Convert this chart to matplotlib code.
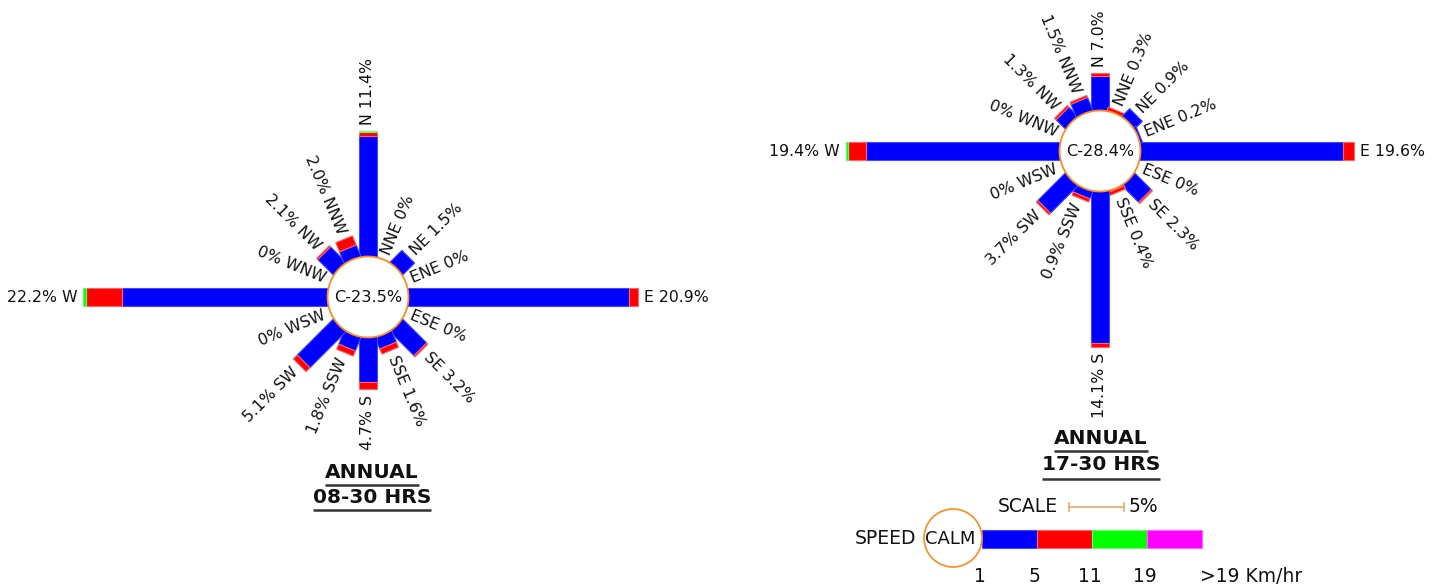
import matplotlib
matplotlib.use('Agg')
import matplotlib.pyplot as plt
from matplotlib.patches import Polygon, Circle
import numpy as np

# ---------------- data ----------------
directions = ['N', 'NNE', 'NE', 'ENE', 'E', 'ESE', 'SE', 'SSE',
              'S', 'SSW', 'SW', 'WSW', 'W', 'WNW', 'NW', 'NNW']
speed_ticks = ['1', '5', '11', '19', '>19 Km/hr']
speed_colors = ['#0000FF', '#FF0000', '#00FF00', '#FF00FF']
speed_edges = ['#4848FF', '#FF6464', '#64FF64', '#FF64FF']

# Rose 1 : ANNUAL 08-30 HRS
r1_title = ['ANNUAL', '08-30 HRS']
r1_calm = 23.5
r1_total = [11.4, 0, 1.5, 0, 20.9, 0, 3.2, 1.6, 4.7, 1.8, 5.1, 0, 22.2, 0, 2.1, 2.0]
r1_s1 = [11.0, 0, 1.5, 0, 20.0, 0, 3.05, 1.1, 4.0, 1.3, 4.6, 0, 18.7, 0, 1.95, 1.1]
r1_s2 = [0.3, 0, 0, 0, 0.9, 0, 0.15, 0.5, 0.7, 0.5, 0.5, 0, 3.3, 0, 0.15, 0.9]
r1_s3 = [0.1, 0, 0, 0, 0, 0, 0, 0, 0, 0, 0, 0, 0.2, 0, 0, 0]
r1_s4 = [0] * 16

# Rose 2 : ANNUAL 17-30 HRS
r2_title = ['ANNUAL', '17-30 HRS']
r2_calm = 28.4
r2_total = [7.0, 0.3, 0.9, 0.2, 19.6, 0, 2.3, 0.4, 14.1, 0.9, 3.7, 0, 19.4, 0, 1.3, 1.5]
r2_s1 = [3.1, 0, 0.95, 0.2, 18.4, 0, 2.1, 0.1, 13.75, 0.7, 3.5, 0, 17.6, 0, 1.15, 1.25]
r2_s2 = [0.35, 0.3, 0, 0, 1.05, 0, 0.15, 0.3, 0.35, 0.3, 0.2, 0, 1.65, 0, 0.2, 0.2]
r2_s3 = [0, 0, 0, 0, 0, 0, 0, 0, 0, 0, 0, 0, 0.15, 0, 0, 0]
r2_s4 = [0] * 16

scale_pct = 5

# ---------------- layout ----------------
W, H = 1442, 586
K = 11.0          # pixels per percent
R = 40.5          # calm circle radius
BW = 18           # bar width
GAP = 6
FS = 11.3
ORANGE = '#FF8A1E'

fig = plt.figure(figsize=(W / 100, H / 100), dpi=100)
ax = fig.add_axes([0, 0, 1, 1])
ax.set_xlim(0, W)
ax.set_ylim(H, 0)
ax.set_aspect('equal')
ax.axis('off')

bearings = np.arange(16) * 22.5


def fmt(v):
    return '0%' if v == 0 else f'{v:.1f}%'


def draw_rose(cx, cy, segs, totals, calm):
    segs = np.array(segs, dtype=float)
    for i, b in enumerate(bearings):
        br = np.radians(b)
        u = np.array([np.sin(br), -np.cos(br)])
        nrm = np.array([np.cos(br), np.sin(br)])
        c = np.array([cx, cy])
        cum = R
        first = True
        for j in range(segs.shape[0]):
            s = segs[j, i]
            if s <= 0:
                continue
            r_a = 0 if first else cum
            r_b = cum + s * K
            pts = [c + u * r_a + nrm * BW / 2, c + u * r_b + nrm * BW / 2,
                   c + u * r_b - nrm * BW / 2, c + u * r_a - nrm * BW / 2]
            ax.add_patch(Polygon(pts, closed=True, facecolor=speed_colors[j],
                                 edgecolor=speed_edges[j], lw=0.8, zorder=2))
            cum = r_b
            first = False
        anchor = c + u * (cum + GAP)
        name = directions[i]
        if b < 180:
            txt = f'{name} {fmt(totals[i])}'
            rot = 90 - b
            ha = 'left'
        else:
            txt = f'{fmt(totals[i])} {name}'
            rot = 270 - b
            ha = 'right'
        ax.text(anchor[0], anchor[1], txt, rotation=rot, rotation_mode='anchor',
                ha=ha, va='center', fontsize=FS, color='#111111', zorder=5)
    ax.add_patch(Circle((cx, cy), R, facecolor='white', edgecolor=ORANGE,
                        lw=1.3, zorder=4))
    ax.text(cx, cy, f'C-{calm}%', ha='center', va='center', fontsize=11.6,
            color='#111111', zorder=5)


draw_rose(368, 297, [r1_s1, r1_s2, r1_s3, r1_s4], r1_total, r1_calm)
draw_rose(1100, 151, [r2_s1, r2_s2, r2_s3, r2_s4], r2_total, r2_calm)

# titles with underline
renderer = fig.canvas.get_renderer()
inv = ax.transData.inverted()


def title(cx, ys, lines, uls):
    for y, line, uy in zip(ys, lines, uls):
        t = ax.text(cx, y, line, ha='center', va='center', fontsize=14.5,
                    fontweight='bold', color='#111111')
        bb = t.get_window_extent(renderer)
        (x0, _), (x1, _) = inv.transform([[bb.x0, bb.y0], [bb.x1, bb.y1]])
        ax.plot([x0, x1], [uy, uy], color='#333333', lw=1.8,
                solid_capstyle='butt')


title(372, [472, 497.5], r1_title, [484.5, 510])
title(1101, [439, 465], r2_title, [451, 478.5])

# legend: scale
LFS = 13.5
ax.text(1058, 506, 'SCALE', ha='right', va='center', fontsize=LFS, color='#111111')
sx0 = 1069
sx1 = sx0 + scale_pct * K
ax.plot([sx0, sx1], [507, 507], color='#F2A46A', lw=1.2)
for sx in (sx0, sx1):
    ax.plot([sx, sx], [503, 511], color='#F2A46A', lw=1.2)
ax.text(sx1 + 5, 506, f'{scale_pct}%', ha='left', va='center', fontsize=LFS,
        color='#111111')

# legend: speed
ax.text(916, 538.5, 'SPEED', ha='right', va='center', fontsize=LFS, color='#111111')
ax.add_patch(Circle((953, 538), 29, facecolor='none', edgecolor=ORANGE, lw=1.2,
                    zorder=4))
ax.text(950, 538.5, 'CALM', ha='center', va='center', fontsize=13, color='#111111',
        zorder=5)
lx = 982
for j, col in enumerate(speed_colors):
    x0 = lx + j * scale_pct * K
    x1 = x0 + scale_pct * K
    ax.add_patch(Polygon([[x0, 530], [x1, 530], [x1, 548], [x0, 548]], closed=True,
                         facecolor=col, edgecolor=speed_edges[j], lw=0.8, zorder=3))
for j, lab in enumerate(speed_ticks):
    x = lx + j * scale_pct * K
    if j < len(speed_ticks) - 1:
        ax.text(x - 2, 577, lab, ha='center', va='center', fontsize=LFS,
                color='#111111')
    else:
        ax.text(x - 2, 577, lab, ha='left', va='center', fontsize=LFS,
                color='#111111')

fig.savefig('out.png', dpi=100)
